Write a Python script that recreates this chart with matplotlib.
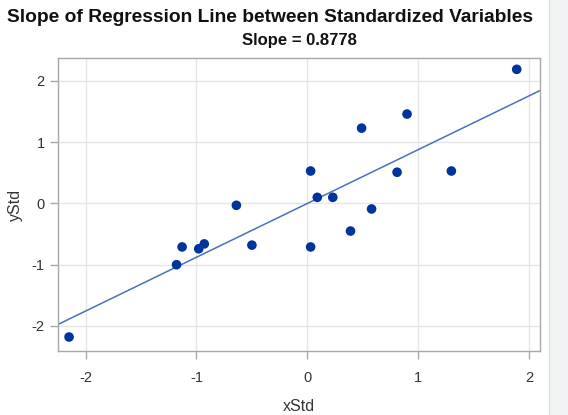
import numpy as np
import matplotlib
matplotlib.use("Agg")
from matplotlib import pyplot as plt
from matplotlib import patches as pch

# standardized values
x_std = [1.89, 0.49, 0.90, 0.03, 0.81, 1.30, 0.09, 0.23, 0.58, 0.39, 0.03,
         -0.64, -0.50, -1.13, -0.93, -0.98, -1.18, -2.15]
y_std = [2.19, 1.23, 1.46, 0.53, 0.51, 0.53, 0.10, 0.10, -0.09, -0.45, -0.71,
         -0.03, -0.68, -0.71, -0.66, -0.74, -1.00, -2.18]
slope = 0.8778
ticks = [-2, -1, 0, 1, 2]

plt.rcParams['font.family'] = ['Liberation Sans', 'DejaVu Sans']
plt.rcParams['axes.unicode_minus'] = False

fig = plt.figure(figsize=(5.68, 4.15), dpi=100)
fig.patch.set_facecolor('white')

# gray strip at the right edge of the screenshot
fig.patches.append(pch.Rectangle((549 / 568, 0), 1 - 549 / 568, 1,
                                 transform=fig.transFigure, facecolor='#f1f3f4',
                                 edgecolor='none', zorder=0))
fig.lines.append(plt.Line2D([549 / 568, 549 / 568], [0, 1], transform=fig.transFigure,
                            color='#dadce0', linewidth=0.8))

ax = fig.add_axes([0.1021, 0.154, 0.8486, 0.7055])
ax.set_xlim(-2.25, 2.10)
ax.set_ylim(-2.41, 2.37)

xl = np.array(ax.get_xlim())
ax.plot(xl, slope * xl, color='#4a6fc2', linewidth=1.1, zorder=2)
ax.scatter(x_std, y_std, s=48, color='#00339c', edgecolors='none', zorder=3)

ax.set_xticks(ticks)
ax.set_yticks(ticks)
ax.grid(True, color='#e6e6e6', linewidth=1.0, zorder=0)
ax.set_axisbelow(True)
for s in ax.spines.values():
    s.set_color('#a8a8a8')
    s.set_linewidth(1.0)
ax.tick_params(colors='#a8a8a8', labelcolor='#333333', labelsize=10.5, length=5.5, width=1)
ax.tick_params(axis='x', pad=9)
ax.tick_params(axis='y', pad=4)

ax.set_xlabel('xStd', fontsize=11.5, color='#333333', labelpad=10)
ax.set_ylabel('yStd', fontsize=11.5, color='#333333', labelpad=6)

title_font = ['Liberation Sans Narrow', 'Liberation Sans', 'DejaVu Sans']
fig.text(270 / 568, 1 - 18 / 415, 'Slope of Regression Line between Standardized Variables',
         ha='center', va='center', fontsize=13.8, fontweight='bold', family=title_font,
         color='#111111')
fig.text(299 / 568, 1 - 40 / 415, 'Slope = 0.8778', ha='center', va='center',
         fontsize=12, fontweight='bold', family=title_font, color='#111111')

fig.savefig('out.png', dpi=100)
